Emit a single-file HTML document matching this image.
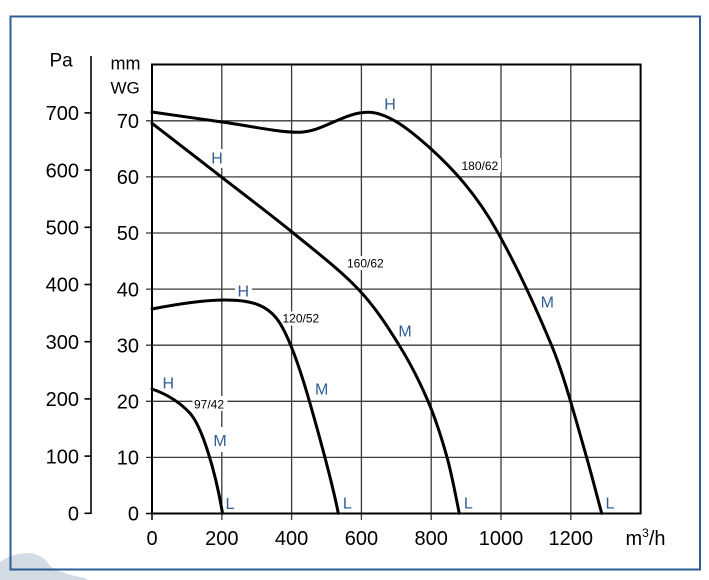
<!DOCTYPE html>
<html>
<head>
<meta charset="utf-8">
<style>
html,body{margin:0;padding:0;background:#fff;}
svg{display:block;}
text{font-family:"Liberation Sans",Arial,sans-serif;}
</style>
</head>
<body>
<svg width="709" height="580" viewBox="0 0 709 580" xmlns="http://www.w3.org/2000/svg">
<rect x="0" y="0" width="709" height="580" fill="#fff"/>
<path d="M0,562 Q12,553 30,553 Q44,555 50,566 Q62,574 85,578 L88,580 L0,580 Z" fill="#d3dbe4"/>
<rect x="10.5" y="16.5" width="689.5" height="553" fill="none" stroke="#2e5c94" stroke-width="2"/>

<g stroke="#3a3a3a" stroke-width="1.3" fill="none">
<line x1="221.8" y1="64.5" x2="221.8" y2="520"/>
<line x1="291.6" y1="64.5" x2="291.6" y2="520"/>
<line x1="361.4" y1="64.5" x2="361.4" y2="520"/>
<line x1="431.2" y1="64.5" x2="431.2" y2="520"/>
<line x1="501" y1="64.5" x2="501" y2="520"/>
<line x1="570.8" y1="64.5" x2="570.8" y2="520"/>
<line x1="146" y1="457.4" x2="640.6" y2="457.4"/>
<line x1="146" y1="401.3" x2="640.6" y2="401.3"/>
<line x1="146" y1="345.2" x2="640.6" y2="345.2"/>
<line x1="146" y1="289.1" x2="640.6" y2="289.1"/>
<line x1="146" y1="233" x2="640.6" y2="233"/>
<line x1="146" y1="176.9" x2="640.6" y2="176.9"/>
<line x1="146" y1="120.8" x2="640.6" y2="120.8"/>
</g>
<g stroke="#000" stroke-width="1.5">
<line x1="146" y1="513.5" x2="152" y2="513.5"/>
<line x1="152" y1="513" x2="152" y2="520"/>
</g>

<g fill="#fff">
<rect x="460" y="158" width="41" height="14"/>
<rect x="345.5" y="256" width="42" height="14"/>
<rect x="281" y="311.5" width="42" height="14"/>
<rect x="192.5" y="396" width="35" height="15"/>
<rect x="211" y="149" width="13" height="19"/>
<rect x="235" y="281.5" width="17" height="18"/>
<rect x="212.5" y="427" width="15" height="25"/>
</g>

<rect x="152" y="64.5" width="488.6" height="449" fill="none" stroke="#000" stroke-width="2"/>

<g fill="none" stroke="#000" stroke-width="3" stroke-linecap="round" stroke-linejoin="round">
<path d="M152,112 C175,115.2 200,119 222,122 C247,125.4 278,132.3 298,132.3 C323,132.3 343,112.3 368,112.3 C388,112.3 410,130 430,148 C452,167.8 476.3,193.7 498.3,233.3 C516.3,265.7 533.7,302.5 551.7,345.7 C563.7,374.5 574.7,415.7 586.7,457.7 C591.7,475.2 596.7,494.8 601.7,513.3"/>
<path d="M152,123.3 C163.5,132.2 197.5,158.45 221,176.7 C244.5,194.95 270.17,214.1 293,232.8 C315.83,251.5 340.33,270.2 358,288.9 C375.67,307.6 387.33,326.3 399,345 C410.67,363.7 420,382.4 428,401.1 C436,419.8 441.78,438.5 447,457.2 C452.22,475.9 457.25,503.95 459.3,513.3"/>
<path d="M152,309 C175,304.5 205,300 225,300 C250,300 268,304.1 280,323.3 C290,339.3 301,371.8 310,403.3 C319,434.8 332.3,483.3 338.3,513.3"/>
<path d="M152,389 C164,393.2 178,400.1 190,413.3 C202,426.5 215.5,471.3 222.5,513.3"/>
</g>

<g stroke="#000" stroke-width="1.6">
<line x1="91" y1="56" x2="91" y2="514"/>
<line x1="84.5" y1="513.3" x2="91" y2="513.3"/>
<line x1="84.5" y1="456.1" x2="91" y2="456.1"/>
<line x1="84.5" y1="398.9" x2="91" y2="398.9"/>
<line x1="84.5" y1="341.7" x2="91" y2="341.7"/>
<line x1="84.5" y1="284.5" x2="91" y2="284.5"/>
<line x1="84.5" y1="227.3" x2="91" y2="227.3"/>
<line x1="84.5" y1="170.1" x2="91" y2="170.1"/>
<line x1="84.5" y1="112.9" x2="91" y2="112.9"/>
</g>

<g font-size="20" fill="#000" text-anchor="end">
<text x="79" y="520.5">0</text>
<text x="79" y="463.3">100</text>
<text x="79" y="406.1">200</text>
<text x="79" y="348.9">300</text>
<text x="79" y="291.7">400</text>
<text x="79" y="234.5">500</text>
<text x="79" y="177.3">600</text>
<text x="79" y="120.1">700</text>
</g>
<text x="49.5" y="66.7" font-size="19" fill="#000">Pa</text>

<g font-size="20" fill="#000" text-anchor="end">
<text x="139" y="520.7">0</text>
<text x="139" y="464.6">10</text>
<text x="139" y="408.5">20</text>
<text x="139" y="352.4">30</text>
<text x="139" y="296.3">40</text>
<text x="139" y="240.2">50</text>
<text x="139" y="184.1">60</text>
<text x="139" y="128">70</text>
</g>
<text x="110.5" y="69.3" font-size="18" fill="#000">mm</text>
<text x="110.5" y="93.3" font-size="17" fill="#000">WG</text>

<g font-size="20" fill="#000" text-anchor="middle">
<text x="152" y="545.2">0</text>
<text x="221.8" y="545.2">200</text>
<text x="291.6" y="545.2">400</text>
<text x="361.4" y="545.2">600</text>
<text x="431.2" y="545.2">800</text>
<text x="501" y="545.2">1000</text>
<text x="570.8" y="545.2">1200</text>
</g>
<text x="625.5" y="545.2" font-size="20" fill="#000">m<tspan font-size="12" dy="-8">3</tspan><tspan dy="8">/h</tspan></text>

<g font-size="12" fill="#000">
<text x="461.5" y="170">180/62</text>
<text x="347" y="267.6">160/62</text>
<text x="282.5" y="322.6">120/52</text>
<text x="194" y="408.3">97/42</text>
</g>

<g font-size="16" fill="#2f5f95" text-anchor="middle">
<text x="390" y="109.7">H</text>
<text x="547.3" y="307.4">M</text>
<text x="610" y="508.4">L</text>
<text x="217" y="163.7">H</text>
<text x="405" y="336.7">M</text>
<text x="468.3" y="508.4">L</text>
<text x="243.3" y="296.4">H</text>
<text x="321.7" y="394.7">M</text>
<text x="347.3" y="508.4">L</text>
<text x="168.3" y="388.4">H</text>
<text x="220" y="446.2">M</text>
<text x="230" y="509">L</text>
</g>
</svg>
</body>
</html>
